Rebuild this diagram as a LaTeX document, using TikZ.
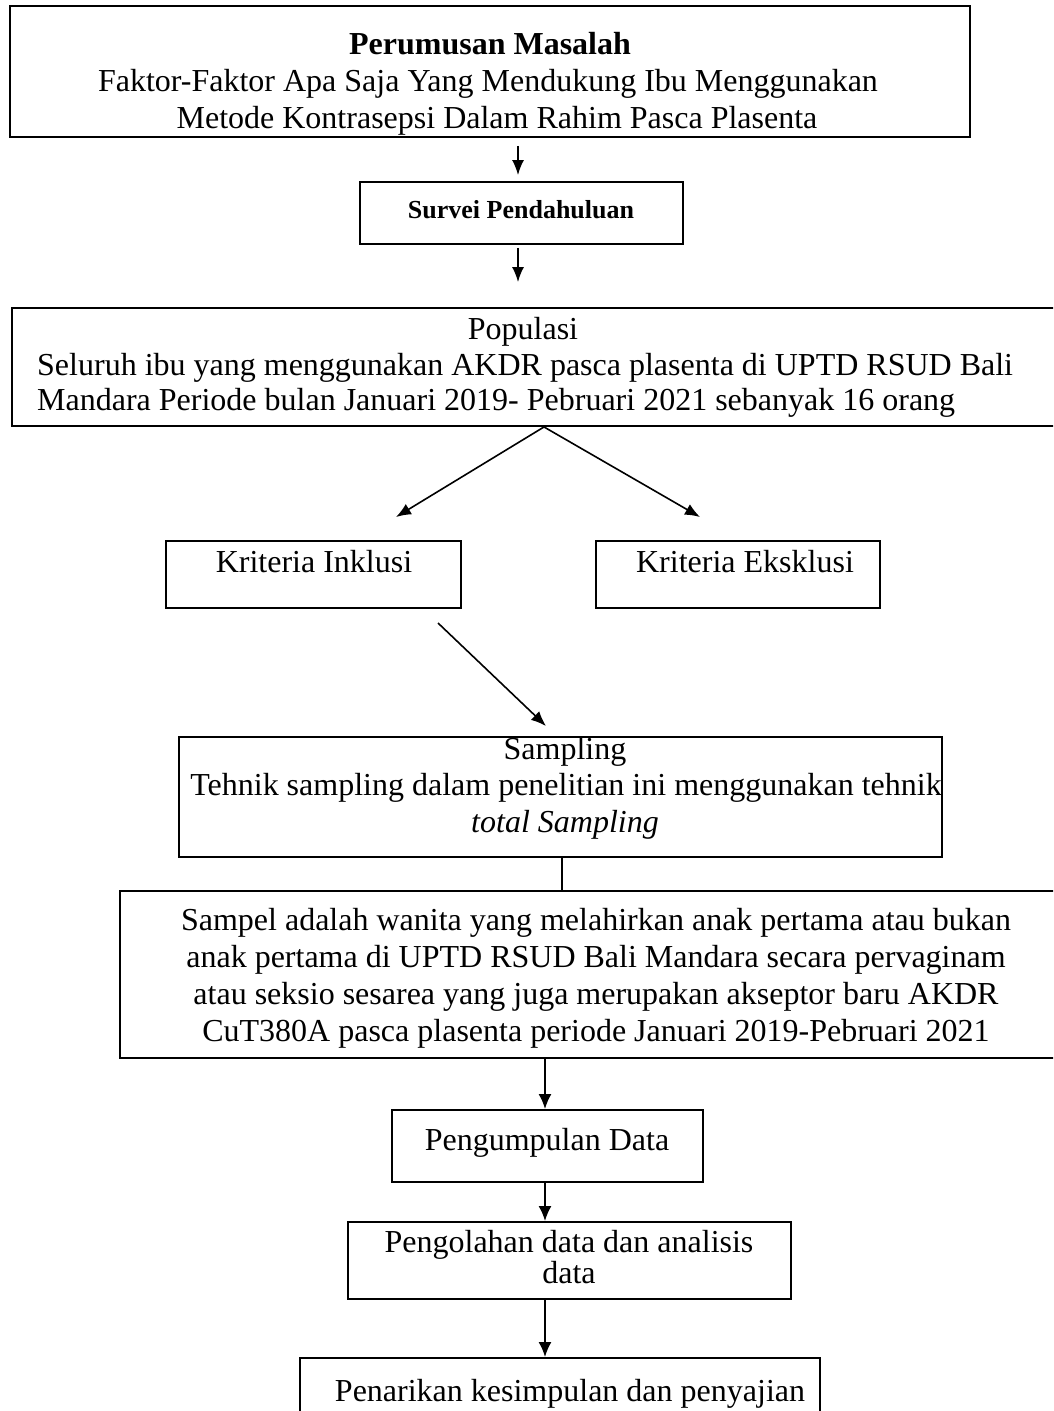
\documentclass[tikz,border=0pt]{standalone}
\usepackage{fontspec}
\setmainfont{Liberation Serif}
\usetikzlibrary{arrows.meta}
\begin{document}
\begin{tikzpicture}[x=1pt,y=-1pt,
  box/.style={draw, line width=1.9pt, inner sep=0pt},
  txt/.style={anchor=base, inner sep=0pt, font=\fontsize{32}{37}\selectfont},
  txtl/.style={txt, anchor=base west},
  arr/.style={line width=1.9pt, -{Latex[length=15pt,width=13pt]}},
  thinarr/.style={line width=1.6pt, -{Latex[length=15pt,width=12pt]}},
  link/.style={line width=1.5pt}]
\useasboundingbox (0,0) rectangle (1053,1411);
\clip (0,0) rectangle (1053,1411);
\fill[white] (0,0) rectangle (1053,1411);

% boxes
\node[box, minimum width=960pt, minimum height=131pt] (top) at (490,71.5) {};
\node[box, minimum width=323pt, minimum height=62pt] (survei) at (521.5,213) {};
\node[box, minimum width=1088pt, minimum height=118pt] (pop) at (556,367) {};
\node[box, minimum width=295pt, minimum height=67pt] (inkl) at (313.5,574.5) {};
\node[box, minimum width=284pt, minimum height=67pt] (eks) at (738,574.5) {};
\node[box, minimum width=763pt, minimum height=120pt] (samp) at (560.5,797) {};
\node[box, minimum width=980pt, minimum height=167pt] (sampel) at (610,974.5) {};
\node[box, minimum width=311pt, minimum height=72pt] (kump) at (547.5,1146) {};
\node[box, minimum width=443pt, minimum height=77pt] (olah) at (569.5,1260.5) {};
\node[box, minimum width=520pt, minimum height=92pt] (tarik) at (560,1404) {};

% texts
\node[txt, font=\fontsize{32}{37}\selectfont\bfseries] (t1) at (490,54) {Perumusan Masalah};
\node[txt] (t2) at (488,91) {Faktor-Faktor Apa Saja Yang Mendukung Ibu Menggunakan};
\node[txt] (t3) at (497,128) {Metode Kontrasepsi Dalam Rahim Pasca Plasenta};
\node[txt, font=\fontsize{26}{30}\selectfont\bfseries] (t4) at (521,218) {Survei Pendahuluan};
\node[txt] (t5) at (523,339) {Populasi};
\node[txtl] (t6) at (37,375) {Seluruh ibu yang menggunakan AKDR pasca plasenta di UPTD RSUD Bali};
\node[txtl] (t7) at (37,410) {Mandara Periode bulan Januari 2019- Pebruari 2021 sebanyak 16 orang};
\node[txt] (t8) at (314,572) {Kriteria Inklusi};
\node[txt] (t9) at (745,572) {Kriteria Eksklusi};
\node[txt] (t10) at (565,759) {Sampling};
\node[txt] (t11) at (566,795) {Tehnik sampling dalam penelitian ini menggunakan tehnik};
\node[txt, font=\fontsize{32}{37}\selectfont\itshape] (t12) at (565,832) {total Sampling};
\node[txt] (t13) at (596,930) {Sampel adalah wanita yang melahirkan anak pertama atau bukan};
\node[txt] (t14) at (596,967) {anak pertama di UPTD RSUD Bali Mandara secara pervaginam};
\node[txt] (t15) at (596,1004) {atau seksio sesarea yang juga merupakan akseptor baru AKDR};
\node[txt] (t16) at (596,1041) {CuT380A pasca plasenta periode Januari 2019-Pebruari 2021};
\node[txt] (t17) at (547,1150) {Pengumpulan Data};
\node[txt] (t18) at (569,1252) {Pengolahan data dan analisis};
\node[txt] (t19) at (569,1283) {data};
\node[txt] (t20) at (570,1401) {Penarikan kesimpulan dan penyajian};

% helper coordinates
\coordinate (ax) at (518,0);
\coordinate (sx) at (544,0);
\coordinate (tipL) at (396,517);
\coordinate (tipR) at (700,517);
\coordinate (d1) at (438,623);
\coordinate (d2) at (546,726);
\coordinate (lx) at (562,0);
\coordinate (cx) at (545,0);

% connectors
\draw[thinarr, shorten <=8pt, shorten >=6pt] (top.south -| ax) -- (survei.north -| ax);
\draw[thinarr, shorten <=3pt, shorten >=25pt] (survei.south -| ax) -- (pop.north -| ax);
\draw[thinarr] (pop.south -| sx) -- (tipL);
\draw[thinarr] (pop.south -| sx) -- (tipR);
\draw[thinarr] (d1) -- (d2);
\draw[link] (samp.south -| lx) -- (sampel.north -| lx);
\draw[arr] (sampel.south -| cx) -- (kump.north -| cx);
\draw[arr] (kump.south -| cx) -- (olah.north -| cx);
\draw[arr] (olah.south -| cx) -- (tarik.north -| cx);
\end{tikzpicture}
\end{document}
